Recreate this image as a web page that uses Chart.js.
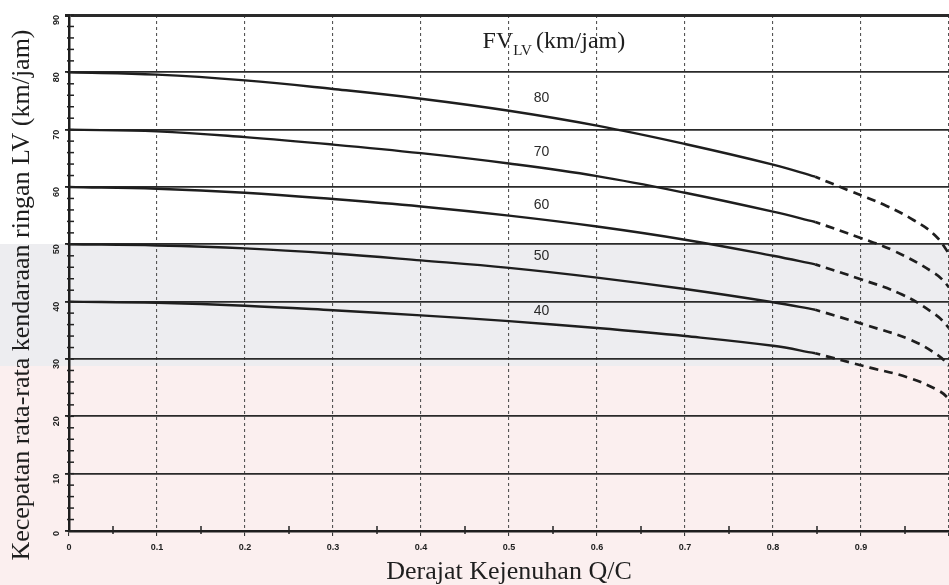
<!DOCTYPE html>
<html>
<head>
<meta charset="utf-8">
<script src="https://cdn.jsdelivr.net/npm/chart.js@4.4.1/dist/chart.umd.min.js"></script>
<style>
  html, body { margin: 0; padding: 0; }
  body {
    width: 949px; height: 585px; overflow: hidden;
    /* scanned page tint: white top, grey band, pink bottom */
    background: linear-gradient(to bottom,
      #ffffff 0, #ffffff 244px,
      #ededf0 244px, #ededf0 366px,
      #fbefef 366px, #fbefef 100%);
  }
  canvas { display: block; }
</style>
</head>
<body>
<canvas id="speedChart" width="949" height="585"></canvas>
<script>
// ── DATA ────────────────────────────────────────────────────────────
const FV_CURVES = ['80', '70', '60', '50', '40'];

// solid part of each curve (Q/C from 0 to ~0.85)
const QC_SOLID = [0, 0.1, 0.2, 0.3, 0.4, 0.5, 0.6, 0.7, 0.8, 0.848];
const SPEED_80 = [80, 79.6, 78.6, 77.1, 75.4, 73.3, 70.7, 67.5, 63.9, 61.8];
const SPEED_70 = [70, 69.7, 68.7, 67.4, 65.9, 64.1, 61.9, 59.0, 55.7, 53.9];
const SPEED_60 = [60, 59.7, 59.0, 57.9, 56.6, 55.0, 53.1, 50.8, 48.0, 46.5];
const SPEED_50 = [50, 49.8, 49.3, 48.4, 47.2, 45.9, 44.2, 42.2, 39.9, 38.6];
const SPEED_40 = [40, 39.8, 39.3, 38.5, 37.6, 36.6, 35.4, 34.0, 32.3, 31.0];

// dashed continuation (Q/C > 0.85)
const QC_DASH_80 = [0.848, 0.886, 0.929, 0.960, 0.984, 1.0, 1.02];
const SPEED_DASH_80 = [61.8, 59.4, 56.7, 54.2, 51.6, 48.3, 43.0];
const QC_DASH_70 = [0.848, 0.898, 0.937, 0.984, 1.0, 1.02];
const SPEED_DASH_70 = [53.9, 51.2, 48.9, 44.9, 42.5, 38.0];
const QC_DASH_60 = [0.848, 0.898, 0.946, 0.984, 1.0, 1.02];
const SPEED_DASH_60 = [46.5, 44.0, 41.3, 37.8, 35.4, 31.0];
const QC_DASH_50 = [0.848, 0.906, 0.957, 0.988, 1.0, 1.02];
const SPEED_DASH_50 = [38.6, 35.9, 33.3, 30.6, 28.8, 25.0];
const QC_DASH_40 = [0.848, 0.910, 0.953, 0.988, 1.0, 1.02];
const SPEED_DASH_40 = [31.0, 28.5, 26.8, 24.5, 23.0, 19.5];

// where the small "80 / 70 / ..." labels sit
const LABEL_QC = 0.537;
const LABEL_SPEED = [75.5, 66.1, 56.8, 48.0, 38.4];

const X_TICK_LABELS = ['0', '0.1', '0.2', '0.3', '0.4', '0.5', '0.6', '0.7', '0.8', '0.9'];
const Y_TITLE = 'Kecepatan rata-rata kendaraan ringan LV (km/jam)';
const X_TITLE = 'Derajat Kejenuhan Q/C';

const SOLID_SETS = [SPEED_80, SPEED_70, SPEED_60, SPEED_50, SPEED_40];
const DASH_SETS = [
  [QC_DASH_80, SPEED_DASH_80], [QC_DASH_70, SPEED_DASH_70], [QC_DASH_60, SPEED_DASH_60],
  [QC_DASH_50, SPEED_DASH_50], [QC_DASH_40, SPEED_DASH_40],
];

const pts = (xs, ys) => xs.map((x, i) => ({ x, y: ys[i] }));

// ── DATASETS ────────────────────────────────────────────────────────
const datasets = [];
FV_CURVES.forEach((fv, i) => {
  datasets.push({
    label: 'FV ' + fv,
    data: pts(QC_SOLID, SOLID_SETS[i]),
    borderColor: '#1e1e1e',
    borderWidth: 2.4,
    pointRadius: 0,
    tension: 0.4,
  });
  datasets.push({
    label: 'FV ' + fv + ' (extrapolated)',
    data: pts(DASH_SETS[i][0], DASH_SETS[i][1]),
    borderColor: '#1e1e1e',
    borderWidth: 2.7,
    borderDash: [9, 6],
    borderDashOffset: 4,
    pointRadius: 0,
    tension: 0.4,
  });
});

// ── ANNOTATIONS: minor ticks, curve labels, FV header, y title ──────
const annotations = {
  id: 'annotations',
  afterDatasetsDraw(chart) {
    const { ctx, scales: { x, y } } = chart;
    ctx.save();

    // minor ticks on the axes
    ctx.strokeStyle = '#222';
    ctx.lineWidth = 1.5;
    for (let v = 0; v <= 90; v += 2) {
      const py = y.getPixelForValue(v);
      ctx.beginPath(); ctx.moveTo(x.left - 2, py); ctx.lineTo(x.left + 5, py); ctx.stroke();
    }
    for (let k = 1; k < 20; k += 2) {
      const px = x.getPixelForValue(k / 20);
      ctx.beginPath(); ctx.moveTo(px, y.bottom - 5); ctx.lineTo(px, y.bottom + 3); ctx.stroke();
    }

    // curve labels
    ctx.fillStyle = '#2a2a2a';
    ctx.font = '14px "Liberation Sans Narrow", "Liberation Sans", sans-serif';
    ctx.textAlign = 'center';
    ctx.textBaseline = 'middle';
    FV_CURVES.forEach((fv, i) => {
      ctx.fillText(fv, x.getPixelForValue(LABEL_QC), y.getPixelForValue(LABEL_SPEED[i]));
    });

    // FV_LV (km/jam) header
    ctx.fillStyle = '#1e1e1e';
    ctx.textAlign = 'left';
    ctx.textBaseline = 'alphabetic';
    let hx = x.getPixelForValue(0.47);
    const hy = y.getPixelForValue(84.2);
    ctx.font = '24px "Liberation Serif", serif';
    ctx.fillText('FV', hx, hy);
    hx += ctx.measureText('FV').width;
    ctx.font = '15px "Liberation Serif", serif';
    ctx.fillText('LV', hx, hy + 7);
    hx += ctx.measureText('LV').width + 4;
    ctx.font = '24px "Liberation Serif", serif';
    ctx.fillText('(km/jam)', hx, hy);

    // y axis title, sits a little lower than the plot centre in the scan
    ctx.translate(22, (y.top + y.bottom) / 2 + 22);
    ctx.rotate(-Math.PI / 2);
    ctx.textAlign = 'center';
    ctx.textBaseline = 'middle';
    ctx.font = '26px "Liberation Serif", serif';
    ctx.fillText(Y_TITLE, 0, 0);

    ctx.restore();
  }
};

// ── CHART ───────────────────────────────────────────────────────────
new Chart(document.getElementById('speedChart'), {
  type: 'line',
  data: { datasets },
  plugins: [annotations],
  options: {
    responsive: false,
    animation: false,
    devicePixelRatio: 1,
    layout: { padding: { top: 15, right: 0, left: 0, bottom: 0 } },
    plugins: { legend: { display: false }, tooltip: { enabled: false } },
    scales: {
      x: {
        type: 'linear',
        min: 0,
        max: 1,
        afterFit: s => { s.height = 54; s.paddingRight = 0; s.paddingLeft = 0; },
        ticks: {
          stepSize: 0.1,
          padding: 6,
          color: '#222',
          font: { family: '"Liberation Sans", sans-serif', size: 9, weight: 'bold' },
          callback: v => X_TICK_LABELS[Math.round(v * 10)] ?? '',
        },
        grid: { color: '#555', lineWidth: 1.1, tickLength: 5, tickColor: '#333' },
        border: { display: true, color: '#1e1e1e', width: 2.5, dash: [3, 3] },
        title: {
          display: true,
          text: X_TITLE,
          color: '#1e1e1e',
          font: { family: '"Liberation Serif", serif', size: 26, lineHeight: 1 },
          padding: { top: 0, bottom: 0 },
        },
      },
      y: {
        min: 0,
        max: 90,
        afterFit: s => { s.width = 69; },
        ticks: {
          stepSize: 10,
          padding: 8,
          minRotation: 90,
          maxRotation: 90,
          color: '#222',
          font: { family: '"Liberation Sans", sans-serif', size: 9, weight: 'bold' },
        },
        grid: {
          color: '#2a2a2a',
          lineWidth: c => (c.tick && c.tick.value === 90 ? 3 : 1.8),
          tickLength: 4,
          tickColor: '#222',
        },
        border: { display: true, color: '#1e1e1e', width: 2.5 },
        title: { display: false },
      },
    },
  },
});
</script>
</body>
</html>
